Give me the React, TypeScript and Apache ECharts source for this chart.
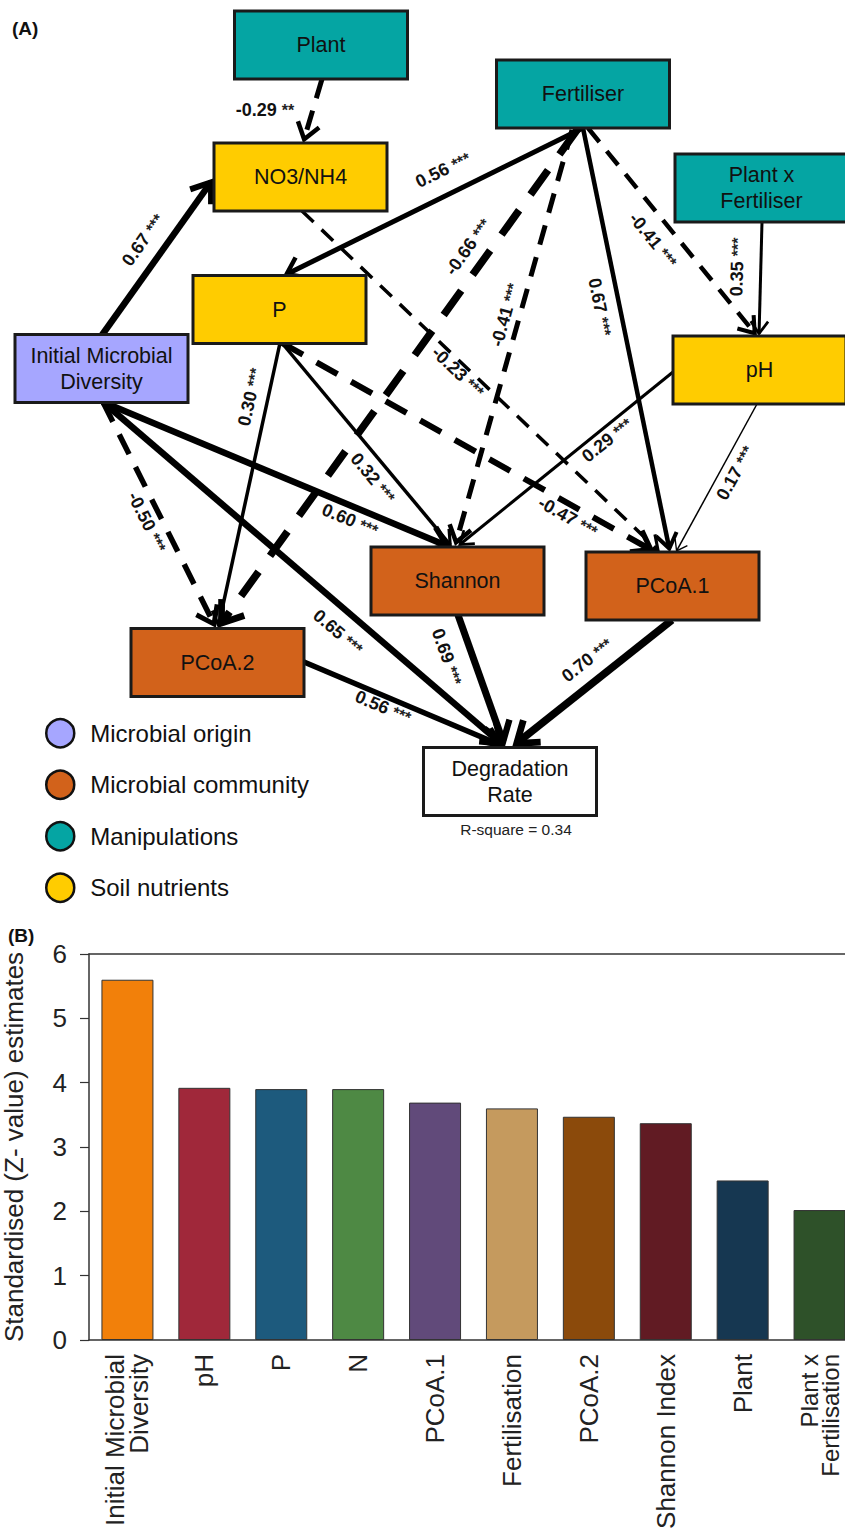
import React, { useEffect, useRef } from "react";
import * as echarts from "echarts";

// ---------------- Panel A: path model ----------------
const GROUP_NAMES = ["Microbial origin", "Microbial community", "Manipulations", "Soil nutrients"];
const GROUP_COLORS = ["#A6A6FF", "#D2621B", "#05A5A3", "#FFCC00"];
const OUTCOME_COLOR = "#ffffff";

const NODE_NAMES = [
  "Plant", "NO3/NH4", "P", "Initial Microbial\nDiversity", "Fertiliser",
  "Plant x\nFertiliser", "pH", "Shannon", "PCoA.1", "PCoA.2", "Degradation\nRate",
];
const NODE_GROUP = [2, 3, 3, 0, 2, 2, 3, 1, 1, 1, -1];
const R_SQUARE = 0.34;

const EDGE_FROM = ["Plant", "Initial Microbial\nDiversity", "Fertiliser", "Fertiliser", "Fertiliser", "Fertiliser", "Fertiliser", "Plant x\nFertiliser", "NO3/NH4", "P", "P", "P", "Initial Microbial\nDiversity", "Initial Microbial\nDiversity", "Initial Microbial\nDiversity", "pH", "pH", "Shannon", "PCoA.2", "PCoA.1"];
const EDGE_TO = ["NO3/NH4", "NO3/NH4", "P", "PCoA.2", "Shannon", "PCoA.1", "pH", "pH", "PCoA.1", "PCoA.2", "Shannon", "PCoA.1", "Shannon", "PCoA.2", "Degradation\nRate", "Shannon", "PCoA.1", "Degradation\nRate", "Degradation\nRate", "Degradation\nRate"];
const EDGE_COEF = [-0.29, 0.67, 0.56, -0.66, -0.41, 0.67, -0.41, 0.35, -0.23, 0.30, 0.32, -0.47, 0.60, -0.50, 0.65, 0.29, 0.17, 0.69, 0.56, 0.70];
const EDGE_SIG = ["**", "***", "***", "***", "***", "***", "***", "***", "***", "***", "***", "***", "***", "***", "***", "***", "***", "***", "***", "***"];

// layout (diagram coordinates)
const NODE_POS = [
  [321, 45], [300.5, 177], [279.5, 309.5], [101.5, 368.5], [583, 94],
  [761.5, 188], [759.5, 370], [457.5, 581], [672.5, 586], [217.5, 662.5], [510, 781.5],
];
const NODE_SIZE = [173, 68];
const EDGE_PATH = [
  [322, 79, 303, 143], [102, 335, 214, 178], [583, 128, 283, 276], [577, 130, 218, 628],
  [572, 130, 455, 546], [583, 128, 670, 552], [588, 128, 757, 336], [762, 222, 759, 336],
  [302, 211, 660, 552], [280, 343, 218, 628], [282, 343, 452, 547], [282, 343, 655, 552],
  [103, 402, 452, 548], [103, 402, 216, 628], [103, 402, 505, 747], [673, 372, 458, 546],
  [757, 404, 676, 552], [458, 615, 505, 747], [304, 662, 505, 747], [672, 620, 512, 747],
];
const EDGE_LABEL_POS = [
  [265, 110], [143, 240], [443, 170], [468, 247], [505, 315], [600, 307], [653, 240], [737, 267],
  [458, 372], [250, 397], [373, 478], [568, 517], [350, 520], [147, 522], [338, 632], [607, 440],
  [735, 473], [447, 657], [383, 707], [587, 660],
];
const EDGE_LABEL_FLAT = [true, false, false, false, false, false, false, false, false, false, false, false, false, false, false, false, false, false, false, false];
const EDGE_WIDTH = [5, 6.5, 5, 7.5, 5, 4.5, 4.5, 3, 3.5, 3.5, 3.5, 6, 6.5, 5.5, 6.5, 3, 1.5, 7, 5.5, 7.5];

// ---------------- Panel B: bar chart ----------------
const B_CATEGORIES = [
  "Initial Microbial\nDiversity", "pH", "P", "N", "PCoA.1", "Fertilisation",
  "PCoA.2", "Shannon Index", "Plant", "Plant x\nFertilisation",
];
const B_VALUES = [5.6, 3.92, 3.9, 3.9, 3.69, 3.6, 3.47, 3.37, 2.48, 2.02];
const B_COLORS = ["#F2800A", "#A0283A", "#1D5A7D", "#4E8944", "#614A7A", "#C59A5E", "#8B4A0B", "#611B23", "#163751", "#2E5129"];
const Y_MIN = 0;
const Y_MAX = 6;
const Y_STEP = 1;
const Y_TITLE = "Standardised (Z- value) estimates";

const FONT = "'Liberation Sans', Arial, Helvetica, sans-serif";

function renderEdge(params: any, api: any) {
  const i = params.dataIndex;
  const a = api.coord([api.value(0), api.value(1)]);
  const b0 = api.coord([api.value(2), api.value(3)]);
  const dx = b0[0] - a[0];
  const dy = b0[1] - a[1];
  const len = Math.hypot(dx, dy);
  const ux = dx / len;
  const uy = dy / len;
  const w = EDGE_WIDTH[i];
  const dashed = EDGE_COEF[i] < 0;
  const tipBack = 0.8 * w;
  const b = [b0[0] - ux * tipBack, b0[1] - uy * tipBack];
  const arm = 9 + 2 * w;
  const ang = 0.62;
  const c = Math.cos(ang);
  const s = Math.sin(ang);
  const bx = -ux;
  const by = -uy;
  const l1 = [b[0] + arm * (bx * c - by * s), b[1] + arm * (bx * s + by * c)];
  const l2 = [b[0] + arm * (bx * c + by * s), b[1] + arm * (-bx * s + by * c)];
  const lp = api.coord(EDGE_LABEL_POS[i]);
  let theta = Math.atan2(dy, dx);
  if (theta > Math.PI / 2) theta -= Math.PI;
  if (theta < -Math.PI / 2) theta += Math.PI;
  const rot = EDGE_LABEL_FLAT[i] ? 0 : -theta;
  const dash = dashed ? [Math.max(16, 4 * w), Math.max(11, 2.6 * w)] : null;
  return {
    type: "group",
    children: [
      {
        type: "line",
        shape: { x1: a[0], y1: a[1], x2: b[0], y2: b[1] },
        style: { stroke: "#000", lineWidth: w, lineDash: dash, lineCap: "butt" },
      },
      {
        type: "polyline",
        shape: { points: [l1, b, l2] },
        style: { stroke: "#000", lineWidth: w * 0.9, fill: null, lineJoin: "miter", miterLimit: 6 },
      },
      {
        type: "text",
        x: lp[0],
        y: lp[1],
        rotation: rot,
        style: {
          text: `{v|${EDGE_COEF[i].toFixed(2)}} {s|${EDGE_SIG[i]}}`,
          fontSize: 18,
          fontFamily: FONT,
          fontWeight: "bold",
          fill: "#111",
          align: "center",
          verticalAlign: "middle",
          rich: {
            v: { fontSize: 18, fontWeight: "bold", fontFamily: FONT, fill: "#111" },
            s: { fontSize: 16, fontWeight: "bold", fontFamily: FONT, fill: "#222" },
          },
        },
      },
    ],
  };
}

function renderNode(params: any, api: any) {
  const k = params.dataIndex;
  const p = api.coord([api.value(0), api.value(1)]);
  const w = NODE_SIZE[0];
  const h = NODE_SIZE[1];
  const g = NODE_GROUP[k];
  return {
    type: "group",
    children: [
      {
        type: "rect",
        shape: { x: p[0] - w / 2, y: p[1] - h / 2, width: w, height: h },
        style: { fill: g >= 0 ? GROUP_COLORS[g] : OUTCOME_COLOR, stroke: "#1a1a1a", lineWidth: 3 },
      },
      {
        type: "text",
        x: p[0],
        y: p[1],
        style: {
          text: NODE_NAMES[k],
          fontSize: 21.5,
          lineHeight: 26,
          fontFamily: FONT,
          fill: "#111",
          align: "center",
          verticalAlign: "middle",
        },
      },
    ],
  };
}

export default function App() {
  const ref = useRef<HTMLDivElement>(null);

  useEffect(() => {
    document.body.style.margin = "0";
    if (!ref.current) return;
    const chart = echarts.init(ref.current, null, { renderer: "svg" });

    const legendProxies = GROUP_NAMES.map((n, g) => ({
      type: "scatter",
      name: n,
      xAxisIndex: 0,
      yAxisIndex: 0,
      symbol: "circle",
      itemStyle: { color: GROUP_COLORS[g], opacity: 1 },
      data: [],
    }));

    const lastIdx = B_CATEGORIES.length - 1;
    const xCats = B_CATEGORIES.map((c, k) =>
      k === lastIdx ? { value: c, textStyle: { fontSize: 24, lineHeight: 21 } } : c
    );

    const option: any = {
      animation: false,
      backgroundColor: "#ffffff",
      textStyle: { fontFamily: FONT },
      legend: {
        data: GROUP_NAMES.map((n) => ({ name: n, icon: "circle" })),
        orient: "vertical",
        left: 45,
        top: 718,
        itemWidth: 28,
        itemHeight: 28,
        itemGap: 21,
        padding: 0,
        selectedMode: false,
        itemStyle: { borderColor: "#111", borderWidth: 2.5, opacity: 1 },
        textStyle: { fontSize: 24, color: "#111", fontFamily: FONT, padding: [0, 0, 0, 11] },
      },
      grid: [
        { left: 0, top: 0, width: 845, height: 900, outerBoundsMode: "none", containLabel: false },
        { left: 89, top: 954, width: 769, height: 386, outerBoundsMode: "none", containLabel: false },
      ],
      xAxis: [
        { type: "value", gridIndex: 0, min: 0, max: 845, show: false },
        {
          type: "category",
          gridIndex: 1,
          data: xCats,
          axisLine: { lineStyle: { color: "#333", width: 1.5 } },
          axisTick: { show: false },
          axisLabel: {
            rotate: 90,
            interval: 0,
            fontSize: 26,
            lineHeight: 24,
            color: "#222",
            margin: 14,
            fontFamily: FONT,
          },
        },
        {
          type: "category",
          gridIndex: 1,
          position: "top",
          data: B_CATEGORIES,
          axisLine: { lineStyle: { color: "#333", width: 1.5 } },
          axisTick: { show: false },
          axisLabel: { show: false },
        },
      ],
      yAxis: [
        { type: "value", gridIndex: 0, min: 0, max: 900, inverse: true, show: false },
        {
          type: "value",
          gridIndex: 1,
          min: Y_MIN,
          max: Y_MAX,
          interval: Y_STEP,
          name: Y_TITLE,
          nameLocation: "middle",
          nameGap: 62,
          nameTextStyle: { fontSize: 26, color: "#222", fontFamily: FONT },
          axisLine: { show: true, lineStyle: { color: "#333", width: 1.5 } },
          axisTick: { show: true, length: 9, lineStyle: { color: "#333", width: 1.2 } },
          axisLabel: { fontSize: 26, color: "#222", margin: 22, fontFamily: FONT },
          splitLine: { show: false },
        },
      ],
      graphic: [
        { type: "text", left: 12, top: 19, style: { text: "(A)", fontSize: 19, fontWeight: "bold", fill: "#111", fontFamily: FONT } },
        { type: "text", left: 8, top: 926, style: { text: "(B)", fontSize: 19, fontWeight: "bold", fill: "#111", fontFamily: FONT } },
        {
          type: "text",
          x: 516,
          y: 829,
          style: {
            text: `R-square = ${R_SQUARE.toFixed(2)}`,
            fontSize: 15.5,
            fill: "#222",
            fontFamily: FONT,
            align: "center",
            verticalAlign: "middle",
          },
        },
      ],
      series: [
        ...legendProxies,
        {
          type: "custom",
          name: "paths",
          xAxisIndex: 0,
          yAxisIndex: 0,
          silent: true,
          z: 3,
          encode: { x: [0, 2], y: [1, 3] },
          renderItem: renderEdge,
          data: EDGE_PATH.map((p, k) => ({ name: `${EDGE_FROM[k]} -> ${EDGE_TO[k]}`, value: p })),
        },
        {
          type: "custom",
          name: "nodes",
          xAxisIndex: 0,
          yAxisIndex: 0,
          silent: true,
          z: 5,
          encode: { x: 0, y: 1 },
          renderItem: renderNode,
          data: NODE_POS.map((p, k) => ({ name: NODE_NAMES[k], value: p })),
        },
        {
          type: "bar",
          name: "Z",
          xAxisIndex: 1,
          yAxisIndex: 1,
          barWidth: 52,
          silent: true,
          data: B_VALUES.map((v, k) => ({
            value: v,
            itemStyle: { color: B_COLORS[k], borderColor: "#333", borderWidth: 1 },
          })),
        },
      ],
    };

    chart.setOption(option);
    return () => chart.dispose();
  }, []);

  return <div ref={ref} style={{ width: 845, height: 1529 }} />;
}
